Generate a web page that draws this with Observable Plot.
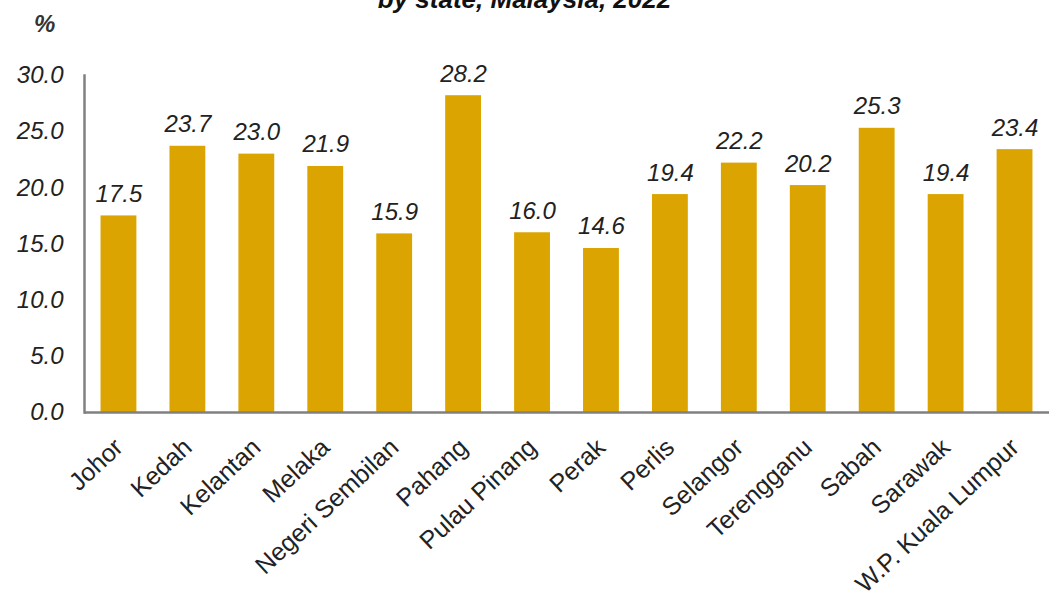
<!DOCTYPE html>
<html>
<head>
<meta charset="utf-8">
<script src="https://cdn.jsdelivr.net/npm/d3@7"></script>
<script src="https://cdn.jsdelivr.net/npm/@observablehq/plot@0.6"></script>
<style>
  html, body { margin: 0; padding: 0; background: #fff; overflow: hidden; }
  #wrap { position: relative; width: 1049px; height: 605px; font-family: "Liberation Sans", Arial, sans-serif; }
  #title { position: absolute; left: 0; width: 1049px; top: -14px; text-align: center; font-size: 26px; line-height: 26px; font-weight: bold; font-style: italic; color: #111; }
  #unit { position: absolute; left: 34px; top: 12px; font-size: 24px; line-height: 24px; font-style: italic; font-weight: bold; color: #333; }
  #chart { position: absolute; left: 0; top: 0; }
</style>
</head>
<body>
<div id="wrap">
  <div id="chart"></div>
  <div id="title">by state, Malaysia, 2022</div>
  <div id="unit">%</div>
</div>
<script>
const states = ["Johor", "Kedah", "Kelantan", "Melaka", "Negeri Sembilan", "Pahang", "Pulau Pinang", "Perak", "Perlis", "Selangor", "Terengganu", "Sabah", "Sarawak", "W.P. Kuala Lumpur"];
const values = [17.5, 23.7, 23.0, 21.9, 15.9, 28.2, 16.0, 14.6, 19.4, 22.2, 20.2, 25.3, 19.4, 23.4];
const yTicks = [0, 5, 10, 15, 20, 25, 30];

const data = states.map((s, i) => ({state: s, value: values[i]}));

const chart = Plot.plot({
  width: 1049,
  height: 605,
  marginLeft: 84,
  marginRight: 0,
  marginTop: 75,
  marginBottom: 193,
  style: {fontFamily: "'Liberation Sans', Arial, sans-serif", background: "transparent", color: "#222"},
  x: {domain: states, paddingInner: 0.48, paddingOuter: 0.24, round: false, label: null},
  y: {domain: [0, 30], label: null},
  marks: [
    Plot.barY(data, {x: "state", y: "value", fill: "#DBA400"}),
    Plot.text(data, {x: "state", y: "value", text: d => d.value.toFixed(1), dy: -14, lineAnchor: "bottom", fontSize: 24, fontStyle: "italic", fill: "#222"}),
    Plot.axisY({ticks: yTicks, tickFormat: d => d.toFixed(1), tickSize: 0, tickPadding: 21, fontSize: 24, fontStyle: "italic", label: null}),
    Plot.axisX({tickSize: 0, tickRotate: -43, tickPadding: 31, fontSize: 25, label: null, dx: 0}),
    Plot.frame({anchor: "left", stroke: "#808080", strokeWidth: 2.5, strokeOpacity: 1}),
    Plot.ruleY([0], {stroke: "#808080", strokeWidth: 2.5})
  ]
});
document.getElementById("chart").appendChild(chart);
</script>
</body>
</html>
